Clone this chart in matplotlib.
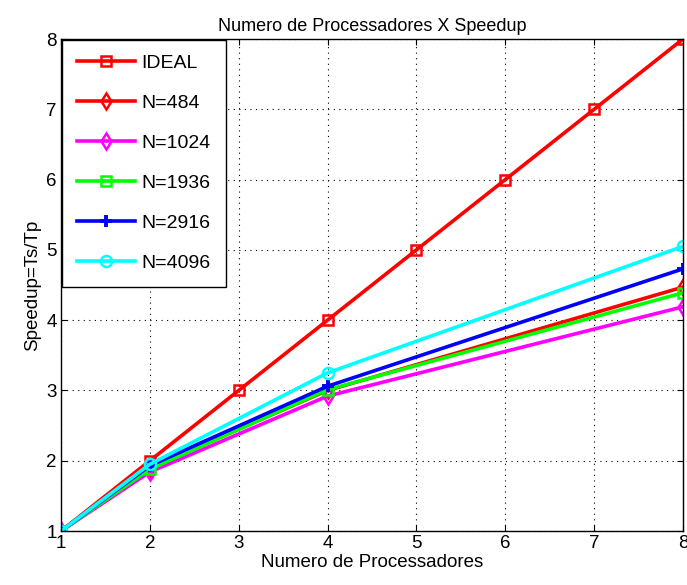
import numpy as np
import matplotlib.pyplot as plt

plt.rcParams['font.family'] = ['Liberation Sans', 'DejaVu Sans']

# processors
p_ideal = [1, 2, 3, 4, 5, 6, 7, 8]
speed_ideal = [1, 2, 3, 4, 5, 6, 7, 8]
procs = [1, 2, 4, 8]

# speedups
s_484 = [1, 1.90, 3.00, 4.47]
s_1024 = [1, 1.84, 2.92, 4.19]
s_1936 = [1, 1.88, 3.01, 4.39]
s_2916 = [1, 1.93, 3.06, 4.73]
s_4096 = [1, 1.95, 3.25, 5.05]

labels = ["IDEAL", "N=484", "N=1024", "N=1936", "N=2916", "N=4096"]

fig = plt.figure(figsize=(6.87, 5.85), dpi=100)
ax = fig.add_axes([0.0888, 0.0923, 0.9054, 0.841])

kw = dict(linewidth=2.6, markersize=6.5, markerfacecolor="none", markeredgewidth=1.8)
ax.plot(p_ideal, speed_ideal, color="#ff0000", marker="s", label=labels[0], **kw)
ax.plot(procs, s_484, color="#ff0000", marker="d", label=labels[1],
        linewidth=2.6, markersize=8, markerfacecolor="none", markeredgewidth=1.8)
ax.plot(procs, s_1024, color="#ff00ff", marker="d", label=labels[2],
        linewidth=2.6, markersize=8, markerfacecolor="none", markeredgewidth=1.8)
ax.plot(procs, s_1936, color="#00ff00", marker="s", label=labels[3], **kw)
ax.plot(procs, s_2916, color="#0000ff", marker="+", label=labels[4],
        linewidth=2.6, markersize=9, markeredgewidth=2.8)
ax.plot(procs, s_4096, color="#00ffff", marker="o", label=labels[5],
        linewidth=2.6, markersize=8, markerfacecolor="none", markeredgewidth=1.8)

ax.set_xlim(1, 8)
ax.set_ylim(1, 8)
ax.set_xticks(range(1, 9))
ax.set_yticks(range(1, 9))
ax.tick_params(direction="in", labelsize=13.5, length=4, top=True, right=True, pad=3)
ax.grid(True, color="black", linestyle=(0, (1, 4)), linewidth=0.8)
for s in ax.spines.values():
    s.set_linewidth(1.0)

ax.set_title("Numero de Processadores X Speedup", fontsize=13, pad=6)
ax.set_xlabel("Numero de Processadores", fontsize=13.5, labelpad=1)
ax.set_ylabel("Speedup=Ts/Tp", fontsize=13.5, labelpad=4)

leg = ax.legend(loc="upper left", fontsize=14, frameon=True, fancybox=False,
                edgecolor="black", framealpha=1, handlelength=3.0,
                labelspacing=1.15, borderpad=0.75, borderaxespad=0.05,
                handletextpad=0.35)
leg.get_frame().set_linewidth(1.0)

fig.savefig("out.png", dpi=100)
